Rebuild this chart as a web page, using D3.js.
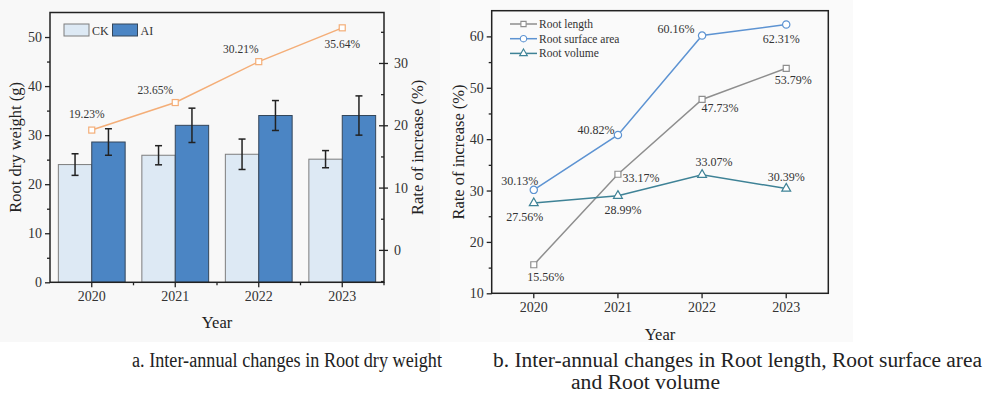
<!DOCTYPE html>
<html>
<head>
<meta charset="utf-8">
<script src="https://cdn.jsdelivr.net/npm/d3@7"></script>
<style>
  html, body { margin: 0; padding: 0; background: #fff; }
  svg { display: block; font-family: "Liberation Serif", "Times New Roman", serif; }
  .axis text { font-family: "Liberation Serif", serif; font-size: 14px; fill: #333; }
  .axis path, .axis line { stroke: #222; stroke-width: 1.3; }
</style>
</head>
<body>
<svg id="chart" width="985" height="394"></svg>
<script>
const YEARS = ['2020', '2021', '2022', '2023'];

// panel a
const CK_WEIGHT = [24.0, 25.9, 26.1, 25.1];
const CK_ERR    = [2.2, 1.95, 3.1, 1.75];
const AI_WEIGHT = [28.6, 32.0, 34.0, 34.0];
const AI_ERR    = [2.7, 3.5, 3.05, 4.0];
const WEIGHT_RATE = [19.23, 23.65, 30.21, 35.64];
const LEFT_TICKS  = [0, 10, 20, 30, 40, 50];
const RIGHT_TICKS = [0, 10, 20, 30];

// panel b
const ROOT_LENGTH  = [15.56, 33.17, 47.73, 53.79];
const ROOT_SURFACE = [30.13, 40.82, 60.16, 62.31];
const ROOT_VOLUME  = [27.56, 28.99, 33.07, 30.39];
const RATE_TICKS   = [10, 20, 30, 40, 50, 60];

const svg = d3.select('#chart');
const fmt = v => v.toFixed(2) + '%';

svg.append('rect').attr('x', 0).attr('y', 0).attr('width', 440).attr('height', 342).attr('fill', '#f8f8f8');
svg.append('rect').attr('x', 440).attr('y', 0).attr('width', 413).attr('height', 342).attr('fill', '#fafafa');

function frame(g, x0, x1, y0, y1) {
  g.append('rect')
    .attr('x', x0).attr('y', y0)
    .attr('width', x1 - x0).attr('height', y1 - y0)
    .attr('fill', 'none').attr('stroke', '#222').attr('stroke-width', 1.5);
}

function minorTicks(axisFn, scale, values, size) {
  return axisFn(scale).tickValues(values).tickSize(size).tickFormat('');
}

// ---------- panel a ----------
{
  const g = svg.append('g');
  const L = 50, R = 384, T = 12.5, B = 282.3;

  const x = d3.scaleBand().domain(YEARS).range([L, R]).padding(0);
  const xs = d3.scaleBand().domain(['CK', 'AI']).range([0, x.bandwidth()]).paddingOuter(0.25).paddingInner(0);
  const y = d3.scaleLinear().domain([0, 55]).range([B, T]);
  const yr = d3.scaleLinear().domain([-5.2, 38.1]).range([B, T]);

  const series = [
    { key: 'CK', vals: CK_WEIGHT, err: CK_ERR, fill: '#dde9f4', stroke: '#7d7d7d' },
    { key: 'AI', vals: AI_WEIGHT, err: AI_ERR, fill: '#4b85c4', stroke: '#34465a' },
  ];

  series.forEach(s => {
    g.selectAll('.bar-' + s.key)
      .data(YEARS)
      .join('rect')
      .attr('x', d => x(d) + xs(s.key))
      .attr('y', (d, i) => y(s.vals[i]))
      .attr('width', xs.bandwidth())
      .attr('height', (d, i) => y(0) - y(s.vals[i]))
      .attr('fill', s.fill)
      .attr('stroke', s.stroke)
      .attr('stroke-width', 1);

    const cx = d => x(d) + xs(s.key) + xs.bandwidth() / 2;
    const eb = g.append('g').attr('stroke', '#222').attr('stroke-width', 1.5);
    eb.selectAll('line.v').data(YEARS).join('line')
      .attr('x1', cx).attr('x2', cx)
      .attr('y1', (d, i) => y(s.vals[i] + s.err[i]))
      .attr('y2', (d, i) => y(s.vals[i] - s.err[i]));
    [1, -1].forEach(sign => {
      eb.selectAll('line.c' + sign).data(YEARS).join('line')
        .attr('x1', d => cx(d) - 3.5).attr('x2', d => cx(d) + 3.5)
        .attr('y1', (d, i) => y(s.vals[i] + sign * s.err[i]))
        .attr('y2', (d, i) => y(s.vals[i] + sign * s.err[i]));
    });
  });

  // rate line
  const mid = d => x(d) + x.bandwidth() / 2;
  const line = d3.line().x((d, i) => mid(YEARS[i])).y(d => yr(d));
  g.append('path').datum(WEIGHT_RATE)
    .attr('d', line).attr('fill', 'none')
    .attr('stroke', '#f4ae78').attr('stroke-width', 1.5);
  g.selectAll('.rate-pt').data(WEIGHT_RATE).join('rect')
    .attr('x', (d, i) => mid(YEARS[i]) - 3)
    .attr('y', d => yr(d) - 3)
    .attr('width', 6).attr('height', 6)
    .attr('fill', '#fff').attr('stroke', '#f4ae78').attr('stroke-width', 1.2);

  const rateOff = [[-5, -12], [-20, -9], [-18, -9], [0, 20]];
  g.selectAll('.rate-lbl').data(WEIGHT_RATE).join('text')
    .attr('x', (d, i) => mid(YEARS[i]) + rateOff[i][0])
    .attr('y', (d, i) => yr(d) + rateOff[i][1])
    .attr('text-anchor', 'middle')
    .attr('font-size', '11.5px').attr('fill', '#333')
    .text(fmt);

  // axes
  g.append('g').attr('class', 'axis').attr('transform', `translate(${L},0)`)
    .call(d3.axisLeft(y).tickValues(LEFT_TICKS).tickSize(5).tickPadding(3))
    .call(a => a.select('.domain').remove());
  g.append('g').attr('class', 'axis').attr('transform', `translate(${L},0)`)
    .call(minorTicks(d3.axisLeft, y, [5, 15, 25, 35, 45], 3))
    .call(a => a.select('.domain').remove());

  g.append('g').attr('class', 'axis').attr('transform', `translate(${R},0)`)
    .call(d3.axisRight(yr).tickValues(RIGHT_TICKS).tickSizeInner(-5).tickSizeOuter(0).tickPadding(10))
    .call(a => a.select('.domain').remove());
  g.append('g').attr('class', 'axis').attr('transform', `translate(${R},0)`)
    .call(d3.axisRight(yr).tickValues(RIGHT_TICKS).tickSize(4).tickFormat(''))
    .call(a => a.select('.domain').remove());
  g.append('g').attr('class', 'axis').attr('transform', `translate(${R},0)`)
    .call(d3.axisRight(yr).tickValues([-5, 5, 15, 25, 35]).tickSize(-3).tickFormat(''))
    .call(a => a.select('.domain').remove());

  g.append('g').attr('class', 'axis').attr('transform', `translate(0,${B})`)
    .call(d3.axisBottom(x).tickSize(5).tickPadding(4))
    .call(a => a.select('.domain').remove());
  const bnd = YEARS.slice(1).map(d => x(d)).concat([R]);
  g.append('g').attr('stroke', '#222').attr('stroke-width', 1.3)
    .selectAll('line').data(bnd).join('line')
    .attr('x1', d => d).attr('x2', d => d).attr('y1', B).attr('y2', B + 3);

  frame(g, L, R, T, B);

  // legend
  const lg = g.append('g').attr('transform', 'translate(64,24)');
  series.forEach((s, i) => {
    lg.append('rect').attr('x', i * 48.5).attr('y', 0).attr('width', 25).attr('height', 12)
      .attr('fill', s.fill).attr('stroke', s.stroke).attr('stroke-width', 1);
    lg.append('text').attr('x', i * 48.5 + 28).attr('y', 10.5)
      .attr('font-size', '12px').attr('fill', '#333').text(s.key);
  });

  g.append('text').attr('transform', `translate(21,${(T + B) / 2}) rotate(-90)`)
    .attr('text-anchor', 'middle').attr('font-size', '16.5px').attr('fill', '#222')
    .text('Root dry weight (g)');
  g.append('text').attr('transform', `translate(423,${(T + B) / 2}) rotate(-90)`)
    .attr('text-anchor', 'middle').attr('font-size', '16.5px').attr('fill', '#222')
    .text('Rate of increase (%)');
  g.append('text').attr('x', (L + R) / 2).attr('y', 328)
    .attr('text-anchor', 'middle').attr('font-size', '16.5px').attr('fill', '#222')
    .text('Year');
}

// ---------- panel b ----------
{
  const g = svg.append('g');
  const L = 491.7, R = 828.3, T = 10.7, B = 293.3;

  const x = d3.scaleBand().domain(YEARS).range([L, R]).padding(0);
  const y = d3.scaleLinear().domain([10, 65]).range([B, T]);
  const mid = d => x(d) + x.bandwidth() / 2;

  const series = [
    { name: 'Root length', vals: ROOT_LENGTH, color: '#8e8e8e', sym: d3.symbolSquare, size: 36,
      off: [[12, 16], [23, 8], [18, 13], [7, 16]] },
    { name: 'Root surface area', vals: ROOT_SURFACE, color: '#5d93d2', sym: d3.symbolCircle, size: 42,
      off: [[-14, -5], [-22, -1], [-26, -3], [-5, 18]] },
    { name: 'Root volume', vals: ROOT_VOLUME, color: '#3e8296', sym: d3.symbolTriangle, size: 34,
      off: [[-9, 18], [5, 18], [12, -9], [0, -8]] },
  ];

  series.forEach(s => {
    const line = d3.line().x((d, i) => mid(YEARS[i])).y(d => y(d));
    g.append('path').datum(s.vals).attr('d', line)
      .attr('fill', 'none').attr('stroke', s.color).attr('stroke-width', 1.5);
    g.selectAll(null).data(s.vals).join('path')
      .attr('transform', (d, i) => `translate(${mid(YEARS[i])},${y(d)})`)
      .attr('d', d3.symbol(s.sym, s.size))
      .attr('fill', '#fff').attr('stroke', s.color).attr('stroke-width', 1.2);
  });
  series.forEach(s => {
    g.selectAll(null).data(s.vals).join('text')
      .attr('x', (d, i) => mid(YEARS[i]) + s.off[i][0])
      .attr('y', (d, i) => y(d) + s.off[i][1])
      .attr('text-anchor', 'middle')
      .attr('font-size', '12px').attr('fill', '#333')
      .text(fmt);
  });

  g.append('g').attr('class', 'axis').attr('transform', `translate(${L},0)`)
    .call(d3.axisLeft(y).tickValues(RATE_TICKS).tickSize(5).tickPadding(3))
    .call(a => a.select('.domain').remove());
  g.append('g').attr('class', 'axis').attr('transform', `translate(${L},0)`)
    .call(minorTicks(d3.axisLeft, y, [15, 25, 35, 45, 55], 3))
    .call(a => a.select('.domain').remove());
  g.append('g').attr('class', 'axis').attr('transform', `translate(0,${B})`)
    .call(d3.axisBottom(x).tickSize(5).tickPadding(4))
    .call(a => a.select('.domain').remove());

  frame(g, L, R, T, B);

  const lg = g.append('g').attr('transform', 'translate(510,24)');
  series.forEach((s, i) => {
    const row = lg.append('g').attr('transform', `translate(0,${i * 14.7})`);
    row.append('line').attr('x1', 0).attr('x2', 27).attr('y1', 0).attr('y2', 0)
      .attr('stroke', s.color).attr('stroke-width', 1.5);
    row.append('path').attr('transform', 'translate(13.5,0)')
      .attr('d', d3.symbol(s.sym, s.size * 0.75))
      .attr('fill', '#fff').attr('stroke', s.color).attr('stroke-width', 1.1);
    row.append('text').attr('x', 29).attr('y', 4)
      .attr('font-size', '11.5px').attr('fill', '#333').text(s.name);
  });

  g.append('text').attr('transform', `translate(464,${(T + B) / 2}) rotate(-90)`)
    .attr('text-anchor', 'middle').attr('font-size', '16.5px').attr('fill', '#222')
    .text('Rate of increase (%)');
  g.append('text').attr('x', 660).attr('y', 340)
    .attr('text-anchor', 'middle').attr('font-size', '16.5px').attr('fill', '#222')
    .text('Year');
}

// captions
const caps = svg.append('g').attr('font-size', '20px').attr('fill', '#222');
caps.append('text').attr('x', 132).attr('y', 367).attr('textLength', 310)
  .attr('lengthAdjust', 'spacingAndGlyphs').text('a. Inter-annual changes in Root dry weight');
caps.append('text').attr('x', 493).attr('y', 367).attr('textLength', 489)
  .attr('lengthAdjust', 'spacingAndGlyphs').text('b. Inter-annual changes in Root length, Root surface area');
caps.append('text').attr('x', 571).attr('y', 389).attr('textLength', 149)
  .attr('lengthAdjust', 'spacingAndGlyphs').text('and Root volume');
</script>
</body>
</html>
